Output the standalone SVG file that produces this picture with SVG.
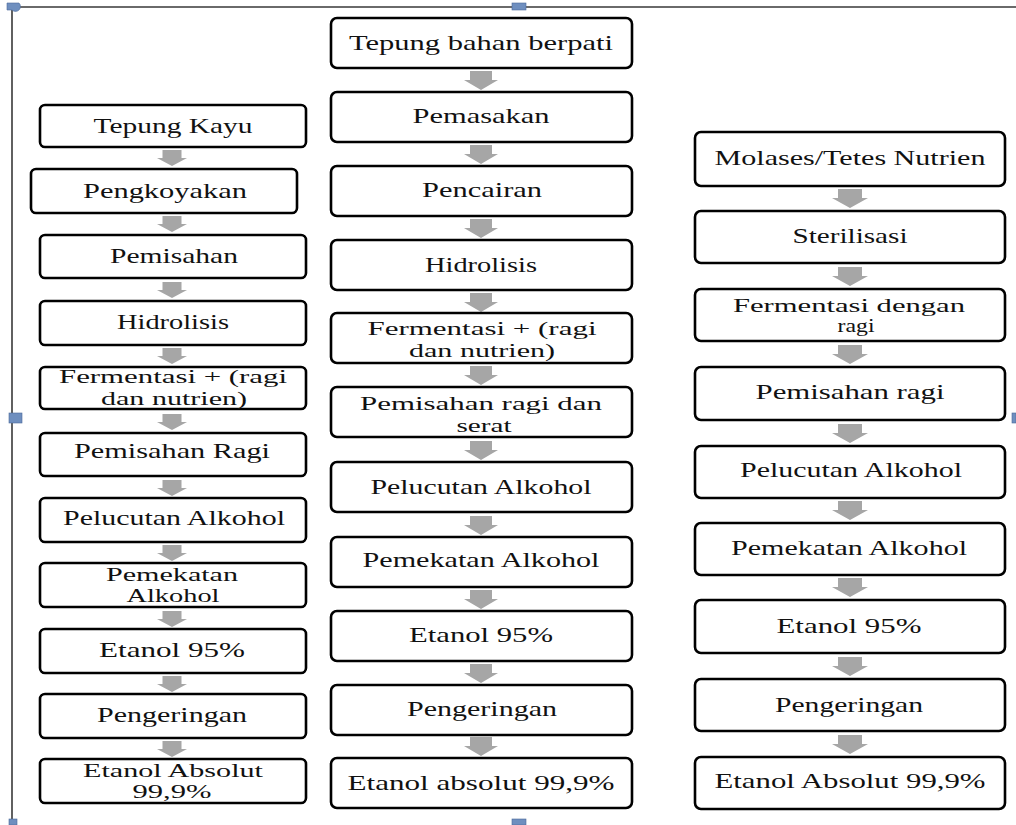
<svg xmlns="http://www.w3.org/2000/svg" width="1016" height="825" viewBox="0 0 1016 825">
<style>
.box{fill:#fff;stroke:#000;stroke-width:2.6}
text{font-size:21px;fill:#111;text-anchor:middle}
.s{font-size:19px}
.arr{fill:#a6a6a6}
.frame{stroke:#3a3a3a;stroke-width:1.6;fill:none}
.h{fill:#6f8fbf;stroke:#4a6a9a;stroke-width:0.6}
</style>
<defs>
<path id="aL" d="M-9.5,0 h19 v8 h5.5 l-15,8 l-15,-8 h5.5 z"/>
<path id="aM" d="M-11,0 h22 v9 h6 l-17,10 l-17,-10 h6 z"/>
<path id="aR" d="M-12,0 h24 v9 h6 l-18,10 l-18,-10 h6 z"/>
</defs>
<rect width="1016" height="825" fill="#fff"/>
<g id="frame">
<path class="frame" d="M12,7 H1016 M12,7 V822"/>
<path class="h" d="M7,3 h12 a4,4 0 0 1 -7,7 h-5 z"/>
<rect class="h" x="512" y="3" width="14" height="7"/>
<rect class="h" x="9" y="413" width="13" height="10"/>
<rect class="h" x="1012" y="413" width="4" height="10"/>
<rect class="h" x="512" y="819" width="14" height="6"/>
<rect class="h" x="9" y="819" width="8" height="6"/>
</g>
<g id="connectors" class="arr">
<use href="#aL" x="172" y="150"/>
<use href="#aL" x="172" y="216"/>
<use href="#aL" x="172" y="282"/>
<use href="#aL" x="172" y="348"/>
<use href="#aL" x="172" y="414"/>
<use href="#aL" x="172" y="480"/>
<use href="#aL" x="172" y="545"/>
<use href="#aL" x="172" y="611"/>
<use href="#aL" x="172" y="676"/>
<use href="#aL" x="172" y="741"/>
<use href="#aM" x="481" y="71"/>
<use href="#aM" x="481" y="145"/>
<use href="#aM" x="481" y="219"/>
<use href="#aM" x="481" y="293"/>
<use href="#aM" x="481" y="366"/>
<use href="#aM" x="481" y="441"/>
<use href="#aM" x="481" y="516"/>
<use href="#aM" x="481" y="590"/>
<use href="#aM" x="481" y="664"/>
<use href="#aM" x="481" y="737"/>
<use href="#aR" x="850" y="189"/>
<use href="#aR" x="850" y="267"/>
<use href="#aR" x="850" y="345"/>
<use href="#aR" x="850" y="424"/>
<use href="#aR" x="850" y="501"/>
<use href="#aR" x="850" y="578"/>
<use href="#aR" x="850" y="657"/>
<use href="#aR" x="850" y="735"/>
</g>
<g id="nodes" font-family="Liberation Serif, Tinos, Times New Roman, Times, Nimbus Roman, DejaVu Serif, serif">
<g id="L1"><rect class="box" x="40" y="105" width="266" height="42" rx="5"/><text x="173" y="133" textLength="159" lengthAdjust="spacingAndGlyphs">Tepung Kayu</text></g>
<g id="L2"><rect class="box" x="31" y="169" width="266" height="44" rx="5"/><text x="165" y="198" textLength="164" lengthAdjust="spacingAndGlyphs">Pengkoyakan</text></g>
<g id="L3"><rect class="box" x="40" y="235" width="266" height="43" rx="5"/><text x="174" y="263" textLength="128" lengthAdjust="spacingAndGlyphs">Pemisahan</text></g>
<g id="L4"><rect class="box" x="40" y="301" width="266" height="44" rx="5"/><text x="173" y="329" textLength="112" lengthAdjust="spacingAndGlyphs">Hidrolisis</text></g>
<g id="L5"><rect class="box" x="40" y="367" width="266" height="42" rx="5"/><text class="s" x="173" y="383" textLength="228" lengthAdjust="spacingAndGlyphs">Fermentasi + (ragi</text><text class="s" x="174" y="405" textLength="146" lengthAdjust="spacingAndGlyphs">dan nutrien)</text></g>
<g id="L6"><rect class="box" x="40" y="433" width="266" height="43" rx="5"/><text x="172" y="458" textLength="196" lengthAdjust="spacingAndGlyphs">Pemisahan Ragi</text></g>
<g id="L7"><rect class="box" x="40" y="498" width="266" height="44" rx="5"/><text x="174" y="525" textLength="222" lengthAdjust="spacingAndGlyphs">Pelucutan Alkohol</text></g>
<g id="L8"><rect class="box" x="40" y="563" width="266" height="44" rx="5"/><text class="s" x="172" y="581" textLength="132" lengthAdjust="spacingAndGlyphs">Pemekatan</text><text class="s" x="173" y="602" textLength="93" lengthAdjust="spacingAndGlyphs">Alkohol</text></g>
<g id="L9"><rect class="box" x="40" y="629" width="266" height="44" rx="5"/><text x="172" y="657" textLength="146" lengthAdjust="spacingAndGlyphs">Etanol 95%</text></g>
<g id="L10"><rect class="box" x="40" y="694" width="266" height="44" rx="5"/><text x="172" y="722" textLength="150" lengthAdjust="spacingAndGlyphs">Pengeringan</text></g>
<g id="L11"><rect class="box" x="40" y="759" width="266" height="44" rx="5"/><text class="s" x="173" y="777" textLength="180" lengthAdjust="spacingAndGlyphs">Etanol Absolut</text><text class="s" x="172" y="798" textLength="79" lengthAdjust="spacingAndGlyphs">99,9%</text></g>
<g id="M1"><rect class="box" x="331" y="18" width="301" height="50" rx="6"/><text x="481" y="50" textLength="264" lengthAdjust="spacingAndGlyphs">Tepung bahan berpati</text></g>
<g id="M2"><rect class="box" x="331" y="92" width="301" height="50" rx="6"/><text x="481" y="123" textLength="137" lengthAdjust="spacingAndGlyphs">Pemasakan</text></g>
<g id="M3"><rect class="box" x="331" y="166" width="301" height="50" rx="6"/><text x="482" y="197" textLength="120" lengthAdjust="spacingAndGlyphs">Pencairan</text></g>
<g id="M4"><rect class="box" x="331" y="240" width="301" height="50" rx="6"/><text x="481" y="272" textLength="112" lengthAdjust="spacingAndGlyphs">Hidrolisis</text></g>
<g id="M5"><rect class="box" x="331" y="313" width="301" height="50" rx="6"/><text class="s" x="482" y="335" textLength="229" lengthAdjust="spacingAndGlyphs">Fermentasi + (ragi</text><text class="s" x="482" y="357" textLength="146" lengthAdjust="spacingAndGlyphs">dan nutrien)</text></g>
<g id="M6"><rect class="box" x="331" y="387" width="301" height="50" rx="6"/><text class="s" x="481" y="410" textLength="242" lengthAdjust="spacingAndGlyphs">Pemisahan ragi dan</text><text class="s" x="484" y="432" textLength="55" lengthAdjust="spacingAndGlyphs">serat</text></g>
<g id="M7"><rect class="box" x="331" y="462" width="301" height="50" rx="6"/><text x="481" y="494" textLength="221" lengthAdjust="spacingAndGlyphs">Pelucutan Alkohol</text></g>
<g id="M8"><rect class="box" x="331" y="537" width="301" height="50" rx="6"/><text x="481" y="567" textLength="237" lengthAdjust="spacingAndGlyphs">Pemekatan Alkohol</text></g>
<g id="M9"><rect class="box" x="331" y="611" width="301" height="50" rx="6"/><text x="481" y="642" textLength="144" lengthAdjust="spacingAndGlyphs">Etanol 95%</text></g>
<g id="M10"><rect class="box" x="331" y="685" width="301" height="50" rx="6"/><text x="482" y="716" textLength="150" lengthAdjust="spacingAndGlyphs">Pengeringan</text></g>
<g id="M11"><rect class="box" x="331" y="758" width="301" height="50" rx="6"/><text x="481" y="790" textLength="267" lengthAdjust="spacingAndGlyphs">Etanol absolut 99,9%</text></g>
<g id="R1"><rect class="box" x="695" y="132" width="310" height="54" rx="6"/><text x="850" y="165" textLength="271" lengthAdjust="spacingAndGlyphs">Molases/Tetes Nutrien</text></g>
<g id="R2"><rect class="box" x="695" y="211" width="310" height="52" rx="6"/><text x="850" y="243" textLength="115" lengthAdjust="spacingAndGlyphs">Sterilisasi</text></g>
<g id="R3"><rect class="box" x="695" y="289" width="310" height="52" rx="6"/><text class="s" x="849" y="312" textLength="232" lengthAdjust="spacingAndGlyphs">Fermentasi dengan</text><text class="s" x="856" y="332" textLength="37" lengthAdjust="spacingAndGlyphs">ragi</text></g>
<g id="R4"><rect class="box" x="695" y="367" width="310" height="53" rx="6"/><text x="850" y="399" textLength="189" lengthAdjust="spacingAndGlyphs">Pemisahan ragi</text></g>
<g id="R5"><rect class="box" x="695" y="446" width="310" height="52" rx="6"/><text x="851" y="477" textLength="222" lengthAdjust="spacingAndGlyphs">Pelucutan Alkohol</text></g>
<g id="R6"><rect class="box" x="695" y="523" width="310" height="52" rx="6"/><text x="849" y="555" textLength="236" lengthAdjust="spacingAndGlyphs">Pemekatan Alkohol</text></g>
<g id="R7"><rect class="box" x="695" y="600" width="310" height="53" rx="6"/><text x="849" y="633" textLength="145" lengthAdjust="spacingAndGlyphs">Etanol 95%</text></g>
<g id="R8"><rect class="box" x="695" y="679" width="310" height="52" rx="6"/><text x="849" y="712" textLength="148" lengthAdjust="spacingAndGlyphs">Pengeringan</text></g>
<g id="R9"><rect class="box" x="695" y="757" width="310" height="52" rx="6"/><text x="850" y="788" textLength="271" lengthAdjust="spacingAndGlyphs">Etanol Absolut 99,9%</text></g>
</g>
</svg>
